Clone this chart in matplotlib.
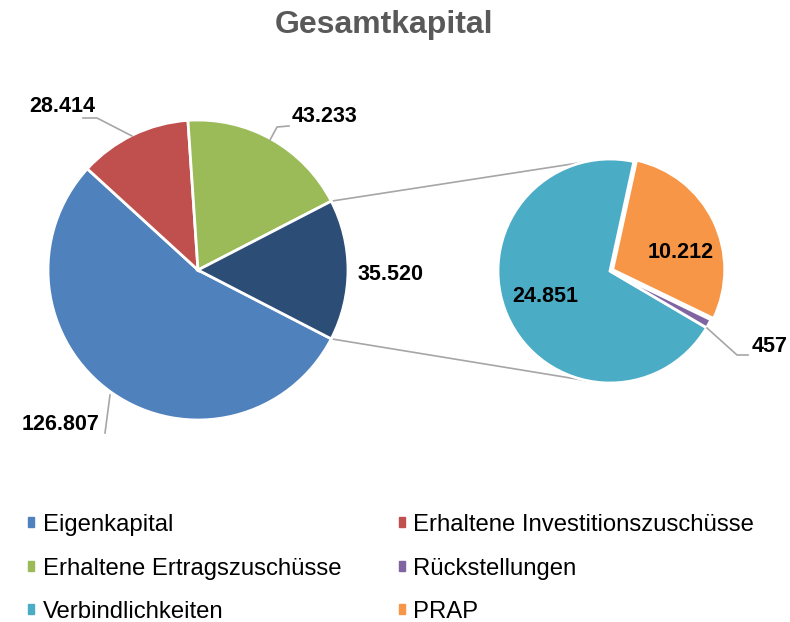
import numpy as np
import matplotlib
matplotlib.use('Agg')
import matplotlib.pyplot as plt
from matplotlib.patches import Rectangle

# values in thousands (German formatting on output)
main_labels = ['Eigenkapital', 'Erhaltene Investitionszuschüsse', 'Erhaltene Ertragszuschüsse']
main_values = [126807, 28414, 43233]
sub_labels = ['Verbindlichkeiten', 'Rückstellungen', 'PRAP']
sub_values = [24851, 457, 10212]

main_colors = ['#4F81BD', '#C0504D', '#9BBB59']
other_color = '#2C4D75'
sub_colors = ['#4BACC6', '#8064A2', '#F79646']

plt.rcParams['font.family'] = ['Liberation Sans', 'DejaVu Sans']


def de(v):
    return f"{v:,}".replace(',', '.')


other_value = sum(sub_values)
pie_values = main_values + [other_value]
pie_colors = main_colors + [other_color]

fig = plt.figure(figsize=(7.9, 6.22), dpi=100)
ax = fig.add_axes([0, 0, 1, 1])

# main pie, "other" slice centered on the right side
other_angle = other_value / sum(pie_values) * 360
c1, r1 = (198, 352), 150
ax.pie(pie_values, colors=pie_colors, center=c1, radius=r1,
       startangle=-other_angle / 2, counterclock=False,
       wedgeprops=dict(edgecolor='white', linewidth=2), frame=True)

# secondary pie
c2, r2 = (610, 351), 112
ax.pie(sub_values, colors=sub_colors, center=c2, radius=r2,
       startangle=77.7, counterclock=True, explode=[0, 0, 3],
       wedgeprops=dict(edgecolor='white', linewidth=2), frame=True)
ax.set_xlim(0, 790)
ax.set_ylim(0, 622)
ax.set_aspect('equal')
ax.axis('off')

# connector lines
gray = '#A6A6A6'
for sgn, a2 in [(1, 104), (-1, -99)]:
    a1 = np.radians(sgn * other_angle / 2)
    p1 = (c1[0] + r1 * np.cos(a1), c1[1] + r1 * np.sin(a1))
    p2 = (c2[0] + r2 * np.cos(np.radians(a2)), c2[1] + r2 * np.sin(np.radians(a2)))
    ax.plot([p1[0], p2[0]], [p1[1], p2[1]], color=gray, lw=1.2, zorder=0)

# data labels
lab_kw = dict(fontsize=15.5, fontweight='bold', color='black', ha='center', va='center')
ax.text(62, 515, de(main_values[1]), **lab_kw)
ax.plot([83, 97, 132], [504, 504, 486], color=gray, lw=1.2)
ax.text(325, 505, de(main_values[2]), **lab_kw)
ax.plot([270, 277, 289], [482, 495, 496], color=gray, lw=1.2)
ax.text(391, 348, de(other_value), **lab_kw)
ax.text(61, 198, de(main_values[0]), **lab_kw)
ax.plot([110, 105], [227, 189], color=gray, lw=1.2)
ax.text(545, 325, de(sub_values[0]), **lab_kw)
ax.text(681, 369, de(sub_values[2]), **lab_kw)
ax.text(770, 275, de(sub_values[1]), **lab_kw)
ax.plot([707, 737, 748], [294, 267, 267], color=gray, lw=1.2)

fig.text(384 / 790, 1 - 25 / 622, 'Gesamtkapital', fontsize=23, fontweight='bold',
         color='#595959', ha='center', va='center')

# legend (row-major order in two columns)
leg_labels = main_labels + sub_labels[1:2] + sub_labels[0:1] + sub_labels[2:]
leg_colors = main_colors + sub_colors[1:2] + sub_colors[0:1] + sub_colors[2:]
order = [0, 2, 4, 1, 3, 5]
handles = [Rectangle((0, 0), 1, 1, color=leg_colors[i]) for i in order]
labels = [leg_labels[i] for i in order]
fig.legend(handles, labels, loc='upper left', bbox_to_anchor=(28 / 790, 1 - 514 / 622),
           ncol=2, frameon=False, fontsize=17.2, handlelength=0.27, handleheight=0.27,
           handletextpad=0.35, labelspacing=0.9, columnspacing=2.4, borderpad=0,
           borderaxespad=0)

fig.savefig('out.png', dpi=100, facecolor='white')
